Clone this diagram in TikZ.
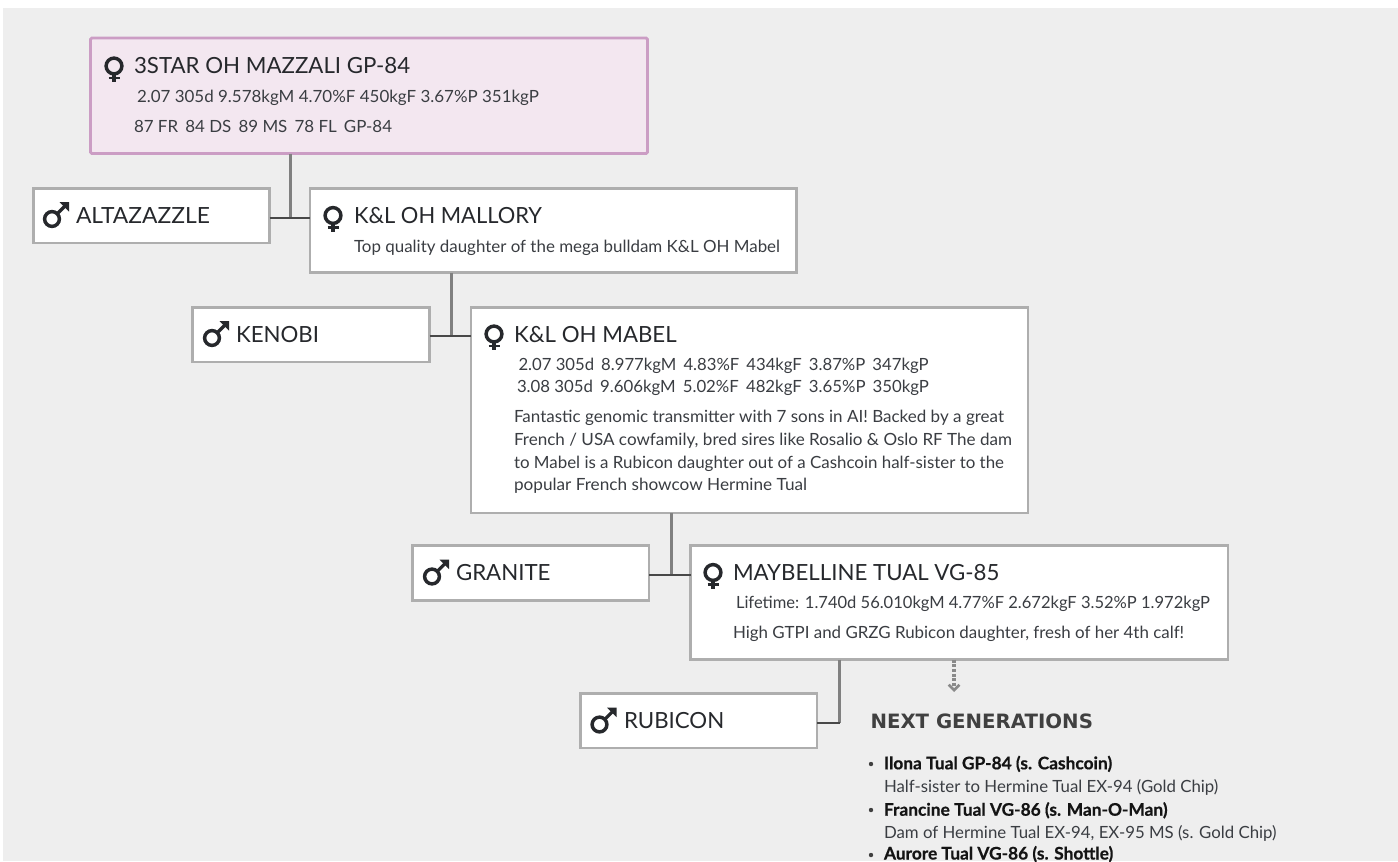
\documentclass[tikz,border=0pt]{standalone}
\usepackage{fontspec}
\usepackage{graphicx}
\setmainfont{Lato}[BoldFeatures={FakeBold=0.6}]
\newfontfamily\headfont{DejaVu Sans Bold}
\usetikzlibrary{arrows.meta}
\definecolor{pagegray}{HTML}{EEEEEE}
\definecolor{boxline}{HTML}{AEAEAE}
\definecolor{pinkfill}{HTML}{F3E7F0}
\definecolor{pinkline}{HTML}{CB9DC4}
\definecolor{ink}{HTML}{26282C}
\definecolor{softink}{HTML}{3A3D42}
\definecolor{vline}{HTML}{808080}
\definecolor{hline}{HTML}{484848}
\definecolor{arrowgray}{HTML}{8A8A8A}
\newcommand{\fitw}[2]{\resizebox{#1}{\height}{#2}}
\tikzset{
  x=0.75pt,y=-0.75pt,
  boxbase/.style={anchor=north west,draw=boxline,line width=1.6pt,fill=white,inner sep=0,outer sep=0},
  mainbox/.style={boxbase,draw=pinkline,fill=pinkfill,line width=2.1pt,rounded corners=1pt},
  txt/.style={anchor=base west,inner sep=0,outer sep=0,text=ink},
  title/.style={txt,font=\fontsize{16.7pt}{20pt}\selectfont},
  small/.style={txt,text=softink,font=\fontsize{12.6pt}{15pt}\selectfont},
  listb/.style={txt,text=black!92,font=\fontsize{13pt}{15pt}\selectfont\bfseries},
  head/.style={txt,font=\fontsize{14.8pt}{17pt}\headfont,text=black!75},
  vconn/.style={draw=vline,line width=2.25pt},
  hconn/.style={draw=hline,line width=1.5pt},
  nextarrow/.style={draw=arrowgray,line width=2.6pt,dash pattern=on 2.4pt off 1.1pt,
     -{Straight Barb[length=4pt,width=8pt,line width=2pt]}},
  femsym/.pic={
    \draw[ink,line width=2.6pt] (0,-3.5) circle[radius=7.9];
    \draw[ink,line width=2.3pt] (0,5) -- (0,12.5);
    \draw[ink,line width=1.9pt] (-5.5,8.7) -- (5.5,8.7);
  },
  malsym/.pic={
    \draw[ink,line width=2.6pt] (-4,4) circle[radius=7.4];
    \draw[ink,line width=2.4pt] (1.5,-1.5) -- (10,-10);
    \fill[ink] (13,-13) -- (3.5,-13) -- (13,-3.5) -- cycle;
  }
}
\begin{document}
\begin{tikzpicture}
\clip (0,0) rectangle (1398,861);
\fill[white] (0,0) rectangle (1398,861);
\fill[pagegray] (3,8) rectangle (1398,861);
% boxes
\node[mainbox,minimum width={557*0.75pt},minimum height={115.5*0.75pt}] (main) at (90.5,38) {};
\node[boxbase,minimum width={236*0.75pt},minimum height={54.5*0.75pt}] (alta) at (33.5,188.5) {};
\node[boxbase,minimum width={486.5*0.75pt},minimum height={84*0.75pt}] (mallory) at (310,188.5) {};
\node[boxbase,minimum width={237*0.75pt},minimum height={54.5*0.75pt}] (kenobi) at (192.5,307.5) {};
\node[boxbase,minimum width={557*0.75pt},minimum height={205.5*0.75pt}] (mabel) at (471,307.5) {};
\node[boxbase,minimum width={236.5*0.75pt},minimum height={55*0.75pt}] (granite) at (412.5,545.5) {};
\node[boxbase,minimum width={537.5*0.75pt},minimum height={114*0.75pt}] (maybelline) at (690.5,545.5) {};
\node[boxbase,minimum width={236.5*0.75pt},minimum height={54.5*0.75pt}] (rubicon) at (580.5,693.5) {};
% connectors
\coordinate (j1) at (290.4,217.5);
\coordinate (j2) at (451.8,336);
\coordinate (j3) at (671,574.5);
\coordinate (j4) at (839,722.7);
\coordinate (dots) at (954,692);
\draw[vconn] (main.south -| j1) -- (j1);
\draw[hconn] (alta.east |- j1) -- (mallory.west |- j1);
\draw[vconn] (mallory.south -| j2) -- (j2);
\draw[hconn] (kenobi.east |- j2) -- (mabel.west |- j2);
\draw[vconn] (mabel.south -| j3) -- (j3);
\draw[hconn] (granite.east |- j3) -- (maybelline.west |- j3);
\draw[vconn] (maybelline.south -| j4) -- (j4);
\draw[hconn] (rubicon.east |- j4) -- ([xshift=0.75pt]j4);
\draw[nextarrow] (maybelline.south -| dots) -- (dots);
% main
\pic at (114,69.5) {femsym};
\node[title] (t1) at (134,73) {3STAR OH MAZZALI GP-84};
\node[small] (t1a) at (137,102.5) {\fitw{301.5pt}{2.07 305d 9.578kgM 4.70\%F 450kgF 3.67\%P 351kgP}};
\node[small] (t1b) at (134,132.3) {\fitw{193.5pt}{87 FR\, 84 DS\, 89 MS\, 78 FL\, GP-84}};
% altazazzle
\pic at (56,215) {malsym};
\node[title] (t2) at (76,223) {\fitw{100.5pt}{ALTAZAZZLE}};
% mallory
\pic at (333,219) {femsym};
\node[title] (t3) at (354,223) {\fitw{141pt}{K\&L OH MALLORY}};
\node[small] (t3a) at (354,252) {\fitw{319.5pt}{Top quality daughter of the mega bulldam K\&L OH Mabel}};
% kenobi
\pic at (216,334) {malsym};
\node[title] (t4) at (236,342) {KENOBI};
% mabel
\pic at (494,337.5) {femsym};
\node[title] (t5) at (514,342) {K\&L OH MABEL};
\node[small] (t5a) at (518.5,370.5) {\fitw{307.5pt}{2.07 305d\, 8.977kgM\, 4.83\%F\, 434kgF\, 3.87\%P\, 347kgP}};
\node[small] (t5b) at (517,392.7) {\fitw{309pt}{3.08 305d\, 9.606kgM\, 5.02\%F\, 482kgF\, 3.65\%P\, 350kgP}};
\node[small] (t5c) at (514,422.7) {\fitw{367.5pt}{Fantastic genomic transmitter with 7 sons in AI! Backed by a great}};
\node[small] (t5d) at (514,445) {\fitw{373.5pt}{French / USA cowfamily, bred sires like Rosalio \& Oslo RF The dam}};
\node[small] (t5e) at (514,468) {\fitw{367.5pt}{to Mabel is a Rubicon daughter out of a Cashcoin half-sister to the}};
\node[small] (t5f) at (514,490.5) {\fitw{219.8pt}{popular French showcow Hermine Tual}};
% granite
\pic at (436,572.5) {malsym};
\node[title] (t6) at (456,580.7) {GRANITE};
% maybelline
\pic at (713,576) {femsym};
\node[title] (t7) at (733,580.7) {MAYBELLINE TUAL VG-85};
\node[small] (t7a) at (736,608.5) {\fitw{355.5pt}{Lifetime: 1.740d 56.010kgM 4.77\%F 2.672kgF 3.52\%P 1.972kgP}};
\node[small] (t7b) at (733,638.5) {\fitw{338.3pt}{High GTPI and GRZG Rubicon daughter, fresh of her 4th calf!}};
% rubicon
\pic at (603.5,720.5) {malsym};
\node[title] (t8) at (624,728.5) {RUBICON};
% next generations
\node[head] (ng) at (870.5,728.6) {NEXT GENERATIONS};
\node[listb] (l1) at (884,769.3) {Ilona Tual GP-84 (s. Cashcoin)};
\node[small] (l1a) at (884,792.7) {Half-sister to Hermine Tual EX-94 (Gold Chip)};
\node[listb] (l2) at (884,815.7) {Francine Tual VG-86 (s. Man-O-Man)};
\node[small] (l2a) at (884,838.3) {Dam of Hermine Tual EX-94, EX-95 MS (s. Gold Chip)};
\node[listb] (l3) at (884,859.5) {Aurore Tual VG-86 (s. Shottle)};
\foreach \y in {764,810,855}{
  \fill[black!75] (871,\y) circle[radius=2.2];
}
\end{tikzpicture}
\end{document}
